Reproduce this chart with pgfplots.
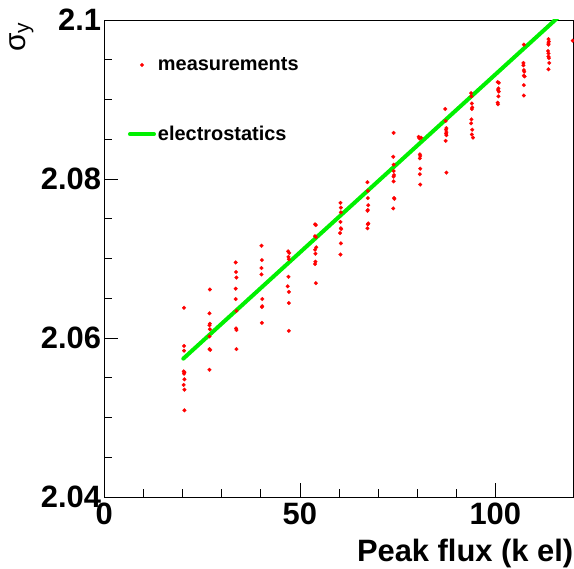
\documentclass[border=0pt]{standalone}
\usepackage{fontspec}
\setmainfont{Liberation Sans}
\usepackage{pgfplots}
\pgfplotsset{compat=1.18}
\definecolor{rootred}{RGB}{255,0,0}
\definecolor{rootgreen}{RGB}{0,240,0}
\begin{document}
\begin{tikzpicture}
\begin{axis}[
  scale only axis,
  width=469.2bp, height=477bp,
  xmin=0, xmax=120, ymin=2.04, ymax=2.1,
  xtick={0,50,100}, xticklabels={0,50,100},
  minor x tick num=4,
  ytick={2.04,2.06,2.08,2.1}, yticklabels={2.04,2.06,2.08,2.1},
  minor y tick num=3,
  tick align=inside, tick pos=left,
  major tick length=14bp, minor tick length=7.5bp,
  tick style={black, line width=0.6bp},
  axis line style={line width=0.6bp},
  /pgf/number format/assume math mode=true,
  ticklabel style={font=\fontsize{31}{31}\selectfont\bfseries, inner sep=0pt},
  xticklabel style={yshift=-6bp},
  yticklabel style={xshift=-3bp},
  xlabel={Peak flux (k el)},
  xlabel style={font=\fontsize{31}{31}\selectfont\bfseries, inner sep=0pt,
    at={(axis description cs:1,0)}, anchor=base east, yshift=-64.5bp},
  ylabel={σ\textsubscript{y}},
  ylabel style={font=\fontsize{30}{30}\selectfont, inner sep=0pt,
    at={(axis description cs:-0.1765,0.996)}, anchor=east},
  legend style={at={(axis description cs:0.0505,0.921)}, anchor=north west,
    draw=none, fill=none, inner sep=0pt, outer sep=0pt,
    row sep=54bp, column sep=2bp,
    font=\fontsize{20}{20}\selectfont\bfseries,
    nodes={inner sep=0pt}},
  legend cell align=left,
  legend image code/.code={\draw[mark repeat=2,mark phase=2,#1] plot coordinates {(0bp,0bp) (12bp,0bp) (24bp,0bp)};},
  clip=true,
]
\addplot[only marks, mark=*, mark size=1.9bp, mark options={draw=rootred, fill=rootred, line width=0.2bp}] table {
x y
20.4 2.0638
20.4 2.0590
20.4 2.0584
20.3 2.0558
20.5 2.0557
20.4 2.0555
20.5 2.0548
20.3 2.0541
20.5 2.0535
20.5 2.0509
27.0 2.0661
26.9 2.0631
27.0 2.0618
26.9 2.0616
27.0 2.0611
26.9 2.0602
26.9 2.0586
27.1 2.0585
26.9 2.0560
33.6 2.0695
33.7 2.0683
33.8 2.0676
33.6 2.0662
33.6 2.0649
33.8 2.0634
33.7 2.0612
33.8 2.0610
33.8 2.0586
40.2 2.0716
40.3 2.0698
40.2 2.0688
40.2 2.0680
40.4 2.0649
40.4 2.0640
40.3 2.0639
40.3 2.0619
47.0 2.0709
47.3 2.0707
47.1 2.0702
47.2 2.0699
47.1 2.0677
46.9 2.0665
47.2 2.0658
47.2 2.0644
47.2 2.0609
53.9 2.0743
54.1 2.0742
53.9 2.0728
54.1 2.0727
54.2 2.0714
53.9 2.0711
54.0 2.0706
54.0 2.0696
53.9 2.0693
54.1 2.0669
60.4 2.0770
60.5 2.0764
60.5 2.0758
60.4 2.0746
60.5 2.0738
60.6 2.0737
60.3 2.0732
60.5 2.0719
60.4 2.0705
67.3 2.0796
67.4 2.0785
67.4 2.0776
67.5 2.0767
67.4 2.0761
67.3 2.0760
67.5 2.0744
67.4 2.0743
67.3 2.0738
74.0 2.0858
73.9 2.0828
74.0 2.0818
74.0 2.0810
74.1 2.0805
74.0 2.0803
74.0 2.0797
74.1 2.0776
74.2 2.0775
73.9 2.0763
80.4 2.0853
81.0 2.0852
80.6 2.0851
80.7 2.0831
80.8 2.0829
80.7 2.0826
80.8 2.0813
80.7 2.0806
80.8 2.0793
87.2 2.0888
87.3 2.0873
87.5 2.0864
87.4 2.0862
87.5 2.0859
87.4 2.0857
87.5 2.0855
87.3 2.0848
87.5 2.0808
93.8 2.0908
93.9 2.0904
94.0 2.0895
94.1 2.0890
94.0 2.0888
93.9 2.0875
93.8 2.0870
94.1 2.0862
94.0 2.0856
94.3 2.0852
100.6 2.0922
100.9 2.0921
100.8 2.0914
100.7 2.0912
100.9 2.0910
100.8 2.0904
100.6 2.0896
100.7 2.0894
107.3 2.0969
107.2 2.0946
107.2 2.0943
107.3 2.0937
107.4 2.0935
107.3 2.0930
107.5 2.0929
107.3 2.0918
107.3 2.0905
113.6 2.0976
113.7 2.0973
113.6 2.0971
113.6 2.0969
113.5 2.0961
113.6 2.0958
113.6 2.0954
113.7 2.0952
113.8 2.0946
113.6 2.0938
119.8 2.0974
};
\addlegendentry{measurements}
\addplot[rootgreen, line width=4bp, line cap=round] coordinates {
(20.2,2.0574) (120,2.1021)
};
\addlegendentry{electrostatics}
\coordinate (sw) at (rel axis cs:0,0);
\coordinate (ne) at (rel axis cs:1,1);
\end{axis}
\pgfresetboundingbox
\useasboundingbox ([shift={(-104.3bp,-72bp)}]sw) rectangle ([shift={(0.5bp,20bp)}]ne);
\end{tikzpicture}
\end{document}
